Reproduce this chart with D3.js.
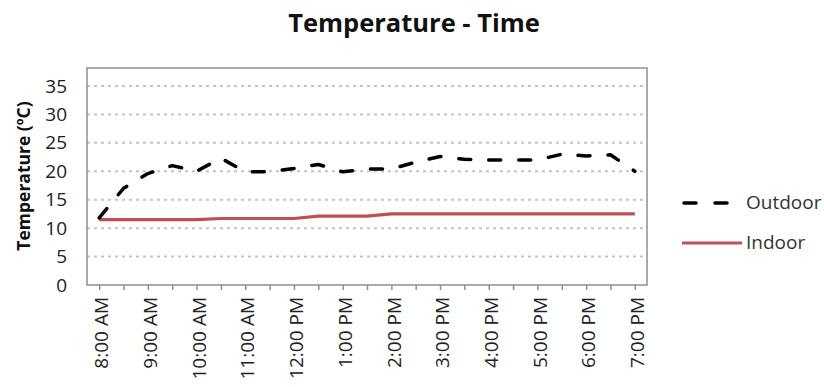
<!DOCTYPE html>
<html>
<head>
<meta charset="utf-8">
<script src="https://cdn.jsdelivr.net/npm/d3@7"></script>
<style>
  html, body { margin: 0; padding: 0; background: #fff; }
  svg { display: block; }
  text { font-family: "Open Sans", sans-serif; fill: #222; }
</style>
</head>
<body>
<svg id="chart" width="824" height="387"></svg>
<script>
// Half-hourly readings, 8:00 AM to 7:00 PM
const times = ["8:00 AM","8:30 AM","9:00 AM","9:30 AM","10:00 AM","10:30 AM","11:00 AM","11:30 AM",
  "12:00 PM","12:30 PM","1:00 PM","1:30 PM","2:00 PM","2:30 PM","3:00 PM","3:30 PM","4:00 PM",
  "4:30 PM","5:00 PM","5:30 PM","6:00 PM","6:30 PM","7:00 PM"];
const outdoor = [11.8, 17.0, 19.6, 21.0, 20.0, 22.3, 19.9, 19.9, 20.5, 21.2, 19.9, 20.4,
  20.4, 21.6, 22.6, 22.1, 22.0, 22.0, 22.0, 23.0, 22.7, 22.9, 20.0];
const indoor = [11.5, 11.5, 11.5, 11.5, 11.5, 11.7, 11.7, 11.7, 11.7, 12.1, 12.1, 12.1,
  12.5, 12.5, 12.5, 12.5, 12.5, 12.5, 12.5, 12.5, 12.5, 12.5, 12.5];
const yTicks = [0, 5, 10, 15, 20, 25, 30, 35];
const seriesNames = ["Outdoor", "Indoor"];

const svg = d3.select("#chart");
const plot = { left: 87, right: 647, top: 68, bottom: 285 };

const x = d3.scaleLinear().domain([-0.5, times.length - 0.5]).range([plot.left, plot.right]);
const y = d3.scaleLinear().domain([0, 35]).range([plot.bottom, 86]);

// Title
svg.append("text")
  .attr("x", 414).attr("y", 32)
  .attr("text-anchor", "middle")
  .style("font-weight", "bold").style("font-size", "25.5px").style("fill", "#111")
  .text("Temperature - Time");

// Dotted horizontal gridlines
svg.append("g").selectAll("line")
  .data(yTicks.filter(d => d > 0))
  .join("line")
  .attr("x1", plot.left).attr("x2", plot.right)
  .attr("y1", d => y(d)).attr("y2", d => y(d))
  .attr("stroke", "#c4c4c4").attr("stroke-width", 2)
  .attr("stroke-dasharray", "3,4");

// Plot frame
svg.append("rect")
  .attr("x", plot.left).attr("y", plot.top)
  .attr("width", plot.right - plot.left).attr("height", plot.bottom - plot.top)
  .attr("fill", "none").attr("stroke", "#8f8f8f").attr("stroke-width", 1.5);

// Y axis labels
const yAxis = d3.axisLeft(y).tickValues(yTicks).tickSize(0).tickPadding(20);
const gy = svg.append("g").attr("transform", `translate(${plot.left},0)`).call(yAxis);
gy.select(".domain").remove();
gy.selectAll("text").style("font-size", "19px").style("font-family", "Open Sans, sans-serif").attr("fill", "#333");

// Y axis title
svg.append("text")
  .attr("transform", "translate(30,176) rotate(-90)")
  .attr("text-anchor", "middle")
  .style("font-weight", "bold").style("font-size", "17.5px").style("fill", "#111")
  .text("Temperature (ºC)");

// X axis: a tick every half hour, labels on the hour
const idx = d3.range(times.length);
const xAxis = d3.axisBottom(x).tickValues(idx).tickSize(5).tickFormat(i => i % 2 === 0 ? times[i] : "");
const gx = svg.append("g").attr("transform", `translate(0,${plot.bottom})`).call(xAxis);
gx.select(".domain").remove();
gx.selectAll(".tick line").attr("stroke", "#8f8f8f").attr("stroke-width", 1.5);
gx.selectAll("text")
  .style("font-size", "19px").style("font-family", "Open Sans, sans-serif").attr("fill", "#333")
  .attr("text-anchor", "end")
  .attr("transform", "translate(2,12) rotate(-90)")
  .attr("x", 0).attr("y", 0).attr("dy", "0.35em");

// Series lines
const line = d3.line().x((d, i) => x(i)).y(d => y(d));

svg.append("path")
  .datum(indoor)
  .attr("d", line)
  .attr("fill", "none").attr("stroke", "#c0504d").attr("stroke-width", 3.2);

svg.append("path")
  .datum(outdoor)
  .attr("d", line)
  .attr("fill", "none").attr("stroke", "#000").attr("stroke-width", 3.5)
  .attr("stroke-linecap", "round").attr("stroke-linejoin", "round")
  .attr("stroke-dasharray", "12,18");

// Legend
const legend = svg.append("g");
legend.append("line")
  .attr("x1", 684).attr("x2", 728).attr("y1", 203).attr("y2", 203)
  .attr("stroke", "#000").attr("stroke-width", 3.5)
  .attr("stroke-linecap", "round").attr("stroke-dasharray", "12,19");
legend.append("line")
  .attr("x1", 682).attr("x2", 742).attr("y1", 243).attr("y2", 243)
  .attr("stroke", "#c0504d").attr("stroke-width", 3.2);
legend.selectAll("text")
  .data(seriesNames)
  .join("text")
  .attr("x", 746).attr("y", (d, i) => 209 + i * 40)
  .style("font-size", "19px").style("fill", "#333")
  .text(d => d);
</script>
</body>
</html>
